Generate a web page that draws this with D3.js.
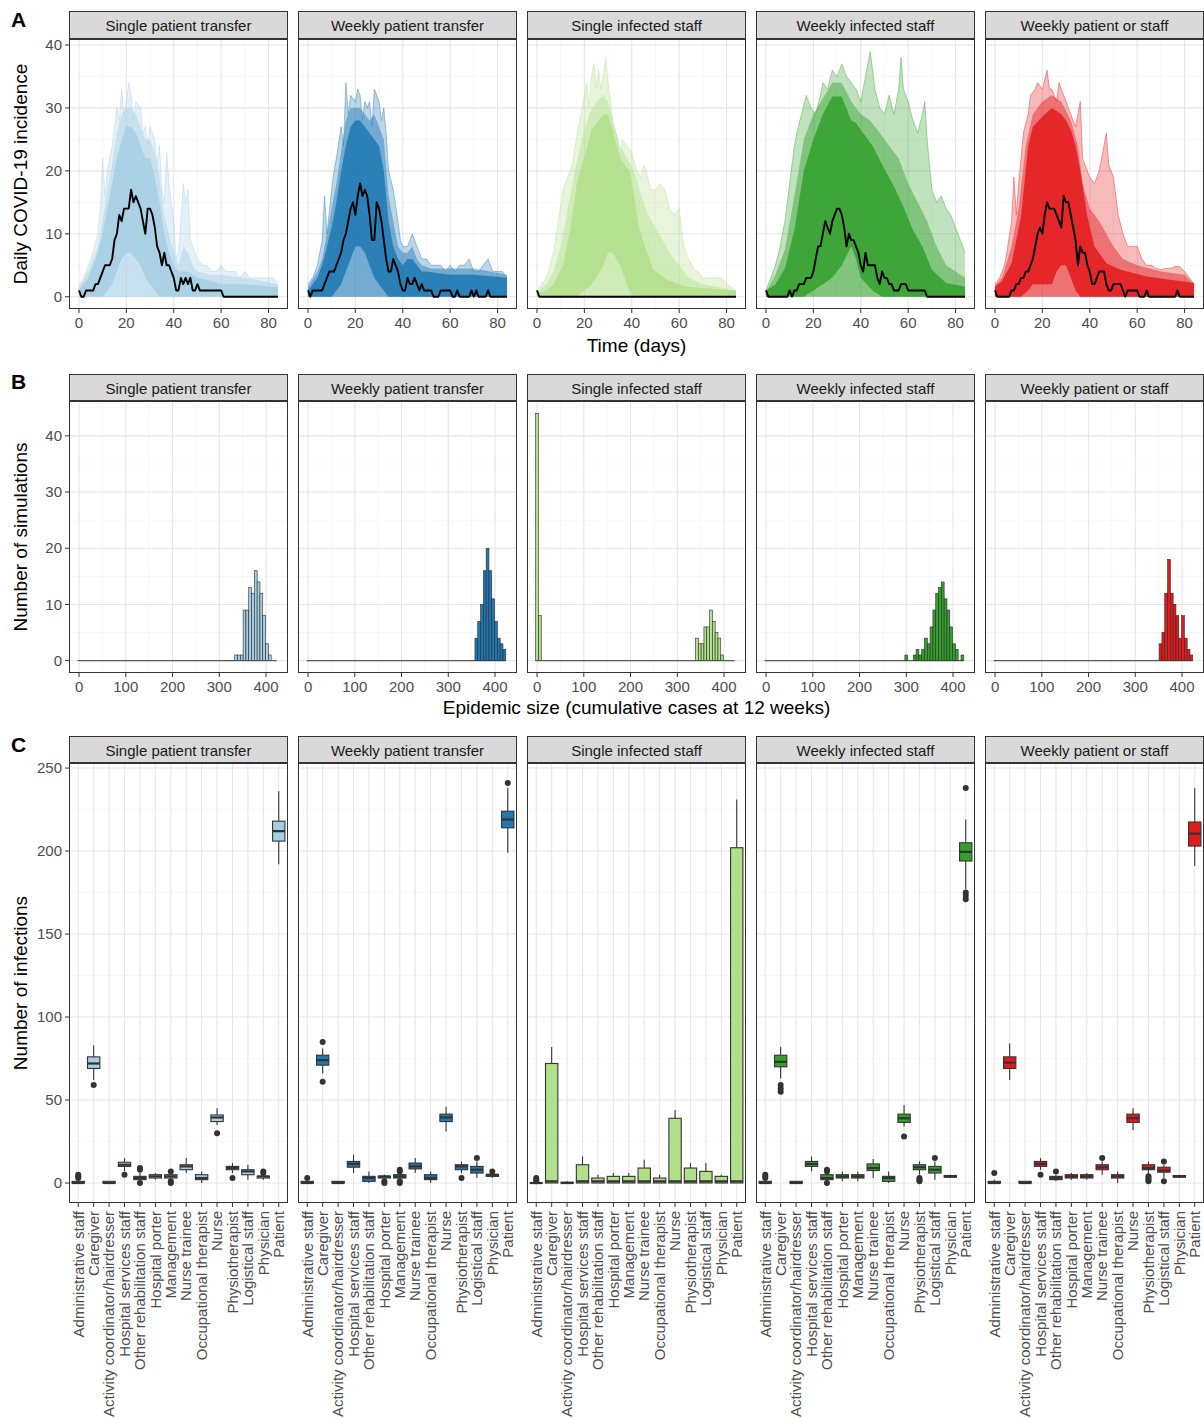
<!DOCTYPE html>
<html>
<head>
<meta charset="utf-8">
<script src="https://cdn.jsdelivr.net/npm/d3@7"></script>
<style>
  body { margin: 0; background: #fff; }
  svg { display: block; font-family: "Liberation Sans", Arial, Helvetica, sans-serif; }
</style>
</head>
<body>
<svg id="fig" width="1204" height="1418"></svg>
<script>
// ---------------- data ----------------
const scenarios = ["Single patient transfer", "Weekly patient transfer", "Single infected staff",
                   "Weekly infected staff", "Weekly patient or staff"];
const scenarioColors = ["#a6cee3", "#1f78b4", "#b2df8a", "#33a02c", "#e31a1c"];

// Panel A: daily incidence of the highlighted simulation, days 0..84
const medSinglePatient = [1,0,0,1,1,1,1,2,2,3, 4,5,5,5,6,9,10,13,12,14, 14,14,17,15,16,15,14,12,10,14,
  14,13,11,8,7,5,7,5,5,4, 3,1,1,3,2,3,2,3,1,1, 2,1,1,1,1,1,1,1,1,1, 1,0,0,0,0,0,0,0,0,0,
  0,0,0,0,0,0,0,0,0,0, 0,0,0,0,0];
const medWeeklyPatient = [1,0,1,1,1,1,1,2,3,4, 4,4,5,6,7,9,10,12,14,15, 13,16,18,16,17,16,13,9,9,15,
  14,12,9,6,4,4,6,5,4,2, 1,1,3,2,2,3,2,1,2,1, 1,1,1,0,0,0,1,1,1,1, 1,0,0,1,0,0,0,0,0,1,
  0,1,0,0,0,0,1,0,0,0, 0,0,0,0,0];
const medSingleStaff = [1,0,0,0,0,0,0,0,0,0, 0,0,0,0,0,0,0,0,0,0, 0,0,0,0,0,0,0,0,0,0,
  0,0,0,0,0,0,0,0,0,0, 0,0,0,0,0,0,0,0,0,0, 0,0,0,0,0,0,0,0,0,0, 0,0,0,0,0,0,0,0,0,0,
  0,0,0,0,0,0,0,0,0,0, 0,0,0,0,0];
const medWeeklyStaff = [1,0,0,0,0,0,0,0,0,0, 1,0,1,1,2,2,2,3,3,3, 4,6,8,8,10,12,11,10,12,13,
  14,14,13,11,8,10,9,9,8,7, 5,4,7,5,5,5,5,3,2,4, 3,3,2,2,1,1,1,2,2,2, 1,1,1,1,1,1,1,1,0,0,
  0,0,0,0,0,0,0,0,0,0, 0,0,0,0,0];
const medWeeklyPatientStaff = [1,0,0,0,0,0,0,1,1,2, 2,3,3,4,4,5,6,8,10,11, 10,13,15,14,14,14,13,12,11,16,
  15,15,13,11,9,5,8,7,7,5, 4,2,2,3,4,4,4,2,1,1, 2,2,2,2,1,0,1,1,1,1, 1,0,0,0,1,0,0,0,0,0,
  0,0,0,0,0,0,0,1,0,0, 0,0,0,0,0];

// Panel A: upper edge of all simulated trajectories [day, incidence]
const outerSinglePatient = [[0,2],[2,3],[4,5],[6,7],[8,10],[9,14],[10,22],[11,16],[12,20],[14,24],[16,30],[17,28],
  [18,33],[19,29],[20,31],[21,34],[22,32],[23,28],[24,31],[26,30],[27,26],[28,27],[29,24],[30,27],[32,25],[33,21],
  [34,24],[35,17],[36,15],[37,23],[38,18],[40,12],[41,6],[42,7],[43,12],[44,18],[45,15],[46,17],[47,9],[48,8],
  [50,6],[52,5],[54,5],[56,4],[58,4],[60,5],[62,4],[64,4],[66,4],[68,3],[70,4],[72,3],[74,3],[76,3],[78,3],
  [80,3],[82,3],[84,2]];
const outerWeeklyPatient = [[0,2],[2,3],[4,5],[6,9],[7,16],[8,10],[10,17],[11,20],[12,22],[14,27],[15,24],[16,34],
  [17,29],[18,32],[20,31],[21,33],[22,32],[23,28],[24,31],[25,30],[26,31],[27,27],[28,33],[30,31],[31,28],[32,30],
  [33,26],[34,20],[36,17],[38,12],[39,9],[40,8],[42,8],[44,10],[45,9],[46,8],[48,6],[50,6],[52,5],[54,5],[56,5],
  [58,4],[60,5],[62,4],[64,5],[66,5],[68,6],[70,4],[72,4],[74,5],[76,6],[78,4],[80,4],[82,4],[84,3]];
const outerSingleStaff = [[0,1],[4,3],[7,7],[9,12],[11,17],[13,19],[15,21],[17,26],[19,30],[21,34],[22,30],[23,35],
  [24,37],[25,33],[26,36],[27,33],[28,35],[29,38],[30,34],[31,31],[32,28],[34,25],[35,22],[36,25],[38,24],[40,23],
  [42,20],[44,19],[45,21],[46,20],[48,17],[50,17],[52,18],[54,17],[56,14],[58,13],[60,14],[62,8],[64,6],[66,4.5],
  [68,4],[70,3],[72,3],[74,3],[76,3],[78,3],[80,2],[82,1.5],[84,1]];
const outerWeeklyStaff = [[0,1],[2,3],[4,5],[6,8],[8,12],[10,18],[12,24],[13,26],[15,29],[17,32],[19,30],[21,29],
  [23,32],[24,34],[26,33],[28,36],[30,35],[32,37],[34,35],[36,34],[38,33],[40,31],[42,35],[44,39],[46,33],[48,30],
  [50,29],[52,32],[54,29],[56,33],[57,38],[58,33],[60,31],[62,28],[64,26],[66,29],[67,31],[68,25],[70,17],[72,15],
  [74,16],[76,14],[78,13],[80,11],[82,9],[84,7]];
const outerWeeklyPatientStaff = [[0,2],[2,3],[4,5],[5,7],[7,12],[8,19],[9,13],[10,18],[12,26],[14,29],[15,32],[17,33],
  [18,34],[20,33],[22,36],[23,33],[24,33],[26,31],[27,34],[28,33],[30,31],[32,29],[34,27],[36,31],[37,22],[38,21],
  [40,19],[42,18],[44,20],[46,24],[47,26],[48,21],[50,19],[52,13],[54,10],[56,8],[58,8],[60,8],[62,6],[64,5],
  [66,5],[68,4.5],[70,4.3],[72,4.5],[74,4.5],[76,4.8],[78,4.8],[80,4],[82,3],[84,2]];

// Panel A: upper edge of the moderately dense part of the trajectories [day, incidence]
const midSinglePatient = [[0,1.5],[4,4],[8,8],[10,12],[12,17],[14,21],[16,26],[18,29],[20,30],[22,30],[24,29],
  [26,27],[28,25],[30,25],[32,23],[34,19],[36,13],[38,10],[40,7],[42,5],[44,8],[46,7],[48,5],[50,4],[56,3.5],
  [60,3.5],[70,3],[84,2]];
const midWeeklyPatient = [[0,1.5],[4,4],[6,6],[8,10],[10,14],[12,18],[14,23],[16,28],[18,30],[20,30],[22,30],
  [24,29],[26,28],[28,29],[30,27],[32,25],[34,16],[36,12],[38,8],[40,7],[42,7],[44,8],[46,6],[48,5],[52,4.5],
  [60,4.5],[70,4.5],[84,3.5]];
const midSingleStaff = [[0,0.8],[4,2],[7,4],[10,8],[13,14],[16,20],[19,25],[22,29],[25,31],[28,32],[30,31],
  [32,28],[35,24],[38,22],[41,20],[44,16],[47,13],[50,11],[53,9],[56,7],[60,5],[64,3],[70,2],[84,1]];
const midWeeklyStaff = [[0,0.8],[4,3.5],[8,7.5],[12,16],[16,25],[20,29],[24,31.5],[28,34],[32,34],[36,31],[40,29],
  [44,28],[48,26],[52,24],[56,22],[60,18],[64,15],[68,12],[72,8],[76,5],[80,4],[84,3]];
const midWeeklyPatientStaff = [[0,1.8],[3,3],[7,8],[10,14],[13,24],[16,29],[20,31],[24,32],[28,31],[32,28],
  [35,24],[37,18],[40,14],[44,12],[47,10],[50,8],[54,6],[60,5],[70,4],[80,3.5],[84,2]];

// Panel A: dense core of the trajectories [day, lower, upper]
const coreSinglePatient = [[0,0,1],[4,0,3],[8,0,7],[10,0,10],[12,1,14],[14,2,18],[16,4,22],[18,6,25],[20,7,27],
  [22,7,27],[24,6,26],[26,5,24],[28,3,22],[30,2,22],[32,1,19],[34,0,15],[36,0,10],[38,0,7],[40,0,5],[42,0,4],
  [46,0,4],[50,0,3],[56,0,2.5],[60,0,2],[70,0,2],[84,0,1.5]];
const coreWeeklyPatient = [[0,0,1],[2,0,2],[4,0,3],[6,0,5],[8,0,8],[10,0,11],[12,1,15],[14,2,20],[16,4,24],[18,6,27],
  [20,8,28],[22,8,28],[24,7,27],[26,5,26],[28,3,25],[30,2,24],[32,1,20],[34,0,12],[36,0,8],[38,0,6],[40,0,5],
  [42,0,6],[44,0,6],[46,0,5],[48,0,4],[50,0,4],[60,0,3.5],[70,0,3.5],[84,0,3]];
const coreSingleStaff = [[0,0,0.5],[4,0,1],[7,0,2],[11,0,5],[14,0,10.5],[17,0,18.5],[20,1,22],[23,2,26.5],
  [25,3,27.5],[28,5,29],[30,7,29],[32,7,26.5],[35,5,22],[37,3,21],[39,1,20],[41,0,16],[43,0,11],[46,0,7.5],
  [49,0,4.3],[55,0,2.7],[63,0,1.6],[84,0,1]];
const coreWeeklyStaff = [[0,0,1],[4,0,2],[8,0,4.5],[12,0,10.6],[16,0,20],[20,1,25],[24,2,29],[28,3,31.8],
  [32,5,31.8],[36,8,28],[38,6,27.6],[40,3,26.5],[45,1,24],[49,0,21],[54,0,17.5],[58,0,14.3],[62,0,10.6],
  [66,0,8],[70,0,4.3],[76,0,2.2],[84,0,1.6]];
const coreWeeklyPatientStaff = [[0,0,1.6],[3,0,2.5],[7,0,5.3],[11,0,12.7],[14,1,23.9],[16,2,27],[20,2,28.6],
  [24,2,30],[26,4,29.5],[28,5,29],[30,5,28],[32,3,26.5],[34,1,24],[36,0,20],[39,0,12.7],[42,0,8],[47,0,5.3],
  [53,0,4.3],[64,0,3.2],[84,0,2.2]];

const incidenceTicks = [0, 20, 40, 60, 80];
const incidenceYTicks = [0, 10, 20, 30, 40];

// Panel B: histogram of epidemic size [bin centre, number of simulations]
const sizeBinWidth = 6;
const sizeBinFirstEdge = -3;
const sizeBinLastEdge = 423;
const histSinglePatient = [[336,1],[342,1],[348,1],[354,9],[360,9],[366,13],[372,12],[378,16],[384,14],[390,12],
  [396,8],[402,3],[408,1]];
const histWeeklyPatient = [[360,4],[366,7],[372,10],[378,16],[384,20],[390,16],[396,11],[402,7],[408,4],[414,3],[420,2]];
const histSingleStaff = [[0,44],[6,8],[342,4],[348,3],[354,3],[360,6],[366,6],[372,9],[378,7],[384,5],[390,4],[396,1]];
const histWeeklyStaff = [[300,1],[318,1],[324,2],[330,1],[336,2],[342,4],[348,3],[354,6],[360,9],[366,12],[372,13],
  [378,14],[384,11],[390,9],[396,6],[402,3],[408,2],[420,1]];
const histWeeklyPatientStaff = [[354,3],[360,5],[366,12],[372,18],[378,12],[384,10],[390,8],[396,4],[402,8],[408,4],
  [414,2],[420,1]];
const sizeXTicks = [0, 100, 200, 300, 400];
const sizeYTicks = [0, 10, 20, 30, 40];

// Panel C: infections per group, [lower whisker, Q1, median, Q3, upper whisker, outliers]
const staffGroups = ["Administrative staff", "Caregiver", "Activity coordinator/hairdresser", "Hospital services staff",
  "Other rehabilitation staff", "Hospital porter", "Management", "Nurse trainee", "Occupational therapist", "Nurse",
  "Physiotherapist", "Logistical staff", "Physician", "Patient"];
const boxSinglePatient = [
  [0,0,0,1,2,[3,4,5]], [62,69,72,76,83,[59]], [0,0,0,1,1,[]], [7,10,11,12.5,15,[5]],
  [1,2,3,4,6,[0,8,9]], [2,3,4,5,6,[]], [2,3,4,5,6,[0,1,7]], [6,8,10,11,15,[]],
  [0,2,3,5,7,[]], [35,37,39.5,41,45,[30]], [6,8,9,10,12,[3]], [2,5,7,8,11,[]],
  [2,3,4,4,5,[6,7]], [192,206,212,218,236,[]]];
const boxWeeklyPatient = [
  [0,0,0,1,2,[3]], [66,71,74,77,81,[61,85]], [0,0,0,1,1,[]], [6,9.5,11.5,13,17,[]],
  [0,1,3,4,7,[]], [2,3,4,4,5,[0,1]], [2,3,4,5,6,[0,1,7,8]], [6,8.5,10,12,15,[]],
  [0,2,3,5,7,[]], [31,37,39.5,41.5,46,[]], [6,8,10,11,13,[3]], [3,6,8,10,13,[15]],
  [3,4,5,5,6,[7]], [199,214,219,224,238,[241]]];
const boxSingleStaff = [
  [0,0,0,0,0,[1,2,3]], [0,0,1,72,82,[]], [0,0,0,0.5,1,[]], [0,0,1,11,16,[]],
  [0,0,1,3,5,[]], [0,0,1,4,6,[]], [0,0,1,4,6,[]], [0,0,1,9,14,[]],
  [0,0,1,3,5,[]], [0,0,1,39,44,[]], [0,0,1,9,12,[]], [0,0,1,7,12,[]],
  [0,0,1,4,5,[]], [0,0,1,202,231,[]]];
const boxWeeklyStaff = [
  [0,0,0,1,2,[3,4,5]], [63,70,73,77,82,[55,57,59]], [0,0,0,1,1,[]], [7,10,11.5,13,16,[]],
  [1,2,3,5,6,[0,7,8]], [1,3,4,5,7,[]], [1,3,4,5,7,[]], [3,7.5,9,11.5,14.5,[]],
  [0,1,3,4,7,[]], [34,36.5,39,41.5,47,[28]], [5,8,9.5,11,13,[1,2,3]], [2,6,8,10,13,[15]],
  [3,3.5,4,4.5,5,[]], [177,194,199.5,205,219,[171,173,175,238]]];
const boxWeeklyPatientStaff = [
  [0,0,0,1,2,[6]], [62,69,72.5,76,84,[]], [0,0,0,1,1,[]], [8,10,11.5,13,15,[5]],
  [1,2,3,4,5,[7]], [2,3,4,5,6,[]], [2,3,4,5,6,[]], [5,8,9.5,11,13,[15]],
  [0,3,4,5,7,[]], [32,36.5,39,41.5,45,[]], [5,8,9,11,13,[1,2,3,4]], [3,6.5,7.5,9.5,11,[1,13]],
  [3,3.5,4,4.5,5,[]], [191,203,210.5,217.5,238,[]]];
const infectionYTicks = [0, 50, 100, 150, 200, 250];

const incidenceMedian = [medSinglePatient, medWeeklyPatient, medSingleStaff, medWeeklyStaff, medWeeklyPatientStaff];
const incidenceOuter = [outerSinglePatient, outerWeeklyPatient, outerSingleStaff, outerWeeklyStaff, outerWeeklyPatientStaff];
const incidenceMid = [midSinglePatient, midWeeklyPatient, midSingleStaff, midWeeklyStaff, midWeeklyPatientStaff];
const incidenceCore = [coreSinglePatient, coreWeeklyPatient, coreSingleStaff, coreWeeklyStaff, coreWeeklyPatientStaff];
const sizeHists = [histSinglePatient, histWeeklyPatient, histSingleStaff, histWeeklyStaff, histWeeklyPatientStaff];
const infectionBoxes = [boxSinglePatient, boxWeeklyPatient, boxSingleStaff, boxWeeklyStaff, boxWeeklyPatientStaff];

// ---------------- layout ----------------
const svg = d3.select("#fig");
const PANEL_X0 = 69, PANEL_STEP = 229, PANEL_W = 219;
const rowA = { strip: 11, top: 39, bottom: 309 };
const rowB = { strip: 374, top: 401, bottom: 673 };
const rowC = { strip: 736, top: 763, bottom: 1203 };
const FRAME = "#333333", TICK_TXT = "#4d4d4d", GRID_MAJ = "#e6e6e6", GRID_MIN = "#f2f2f2";
const TICK_FONT = 15, STRIP_FONT = 15, TITLE_FONT = 19;
const panelLeft = i => PANEL_X0 + i * PANEL_STEP;

function strip(i, row) {
  const x0 = panelLeft(i);
  svg.append("rect").attr("x", x0 + 0.5).attr("y", row.strip + 0.5)
    .attr("width", PANEL_W - 1).attr("height", row.top - row.strip - 1)
    .attr("fill", "#d9d9d9").attr("stroke", FRAME).attr("stroke-width", 1);
  svg.append("text").attr("x", x0 + PANEL_W / 2).attr("y", (row.strip + row.top) / 2 + 1)
    .attr("dy", "0.35em").attr("text-anchor", "middle").attr("font-size", STRIP_FONT).attr("fill", "#1a1a1a")
    .text(scenarios[i]);
}

function frame(g, i, row) {
  g.append("rect").attr("x", panelLeft(i) + 0.5).attr("y", row.top + 0.5)
    .attr("width", PANEL_W - 1).attr("height", row.bottom - row.top - 1)
    .attr("fill", "none").attr("stroke", FRAME).attr("stroke-width", 1);
}

function minorsOf(ticks, dom) {
  const step = ticks[1] - ticks[0];
  const out = [];
  for (let k = -1; k < ticks.length; k++) {
    const m = ticks[0] + (k + 0.5) * step;
    if (m > dom[0] && m < dom[1]) out.push(m);
  }
  return out;
}

function linearGrid(g, x, y, xt, yt, row, i) {
  const x0 = panelLeft(i), x1 = x0 + PANEL_W;
  minorsOf(yt, y.domain()).forEach(v => g.append("line").attr("x1", x0).attr("x2", x1)
    .attr("y1", y(v)).attr("y2", y(v)).attr("stroke", GRID_MIN).attr("stroke-width", 0.6));
  minorsOf(xt, x.domain()).forEach(v => g.append("line").attr("y1", row.top).attr("y2", row.bottom)
    .attr("x1", x(v)).attr("x2", x(v)).attr("stroke", GRID_MIN).attr("stroke-width", 0.6));
  yt.forEach(v => g.append("line").attr("x1", x0).attr("x2", x1)
    .attr("y1", y(v)).attr("y2", y(v)).attr("stroke", GRID_MAJ).attr("stroke-width", 1.1));
  xt.forEach(v => g.append("line").attr("y1", row.top).attr("y2", row.bottom)
    .attr("x1", x(v)).attr("x2", x(v)).attr("stroke", GRID_MAJ).attr("stroke-width", 1.1));
}

function bottomTicks(scale, ticks, row) {
  ticks.forEach(t => {
    const px = scale(t);
    svg.append("line").attr("x1", px).attr("x2", px).attr("y1", row.bottom).attr("y2", row.bottom + 4)
      .attr("stroke", FRAME).attr("stroke-width", 1);
    svg.append("text").attr("x", px).attr("y", row.bottom + 8).attr("dy", "0.71em")
      .attr("text-anchor", "middle").attr("font-size", TICK_FONT).attr("fill", TICK_TXT).text(t);
  });
}

function leftTicks(scale, ticks) {
  ticks.forEach(t => {
    const py = scale(t);
    svg.append("line").attr("x1", PANEL_X0 - 4).attr("x2", PANEL_X0).attr("y1", py).attr("y2", py)
      .attr("stroke", FRAME).attr("stroke-width", 1);
    svg.append("text").attr("x", PANEL_X0 - 7).attr("y", py).attr("dy", "0.35em")
      .attr("text-anchor", "end").attr("font-size", TICK_FONT).attr("fill", TICK_TXT).text(t);
  });
}

function yTitle(text, row) {
  svg.append("text").attr("transform", `translate(20,${(row.top + row.bottom) / 2}) rotate(-90)`)
    .attr("dy", "0.35em").attr("text-anchor", "middle").attr("font-size", TITLE_FONT).attr("fill", "#000").text(text);
}
function xTitle(text, yPos) {
  svg.append("text").attr("x", (PANEL_X0 + panelLeft(4) + PANEL_W) / 2).attr("y", yPos)
    .attr("text-anchor", "middle").attr("font-size", TITLE_FONT).attr("fill", "#000").text(text);
}
function tag(letter, yPos) {
  svg.append("text").attr("x", 11).attr("y", yPos).attr("font-size", 21).attr("font-weight", "bold")
    .attr("fill", "#000").text(letter);
}

// ---------------- A: daily incidence ----------------
scenarios.forEach((name, i) => {
  const x0 = panelLeft(i);
  const x = d3.scaleLinear().domain([-4.2, 88.2]).range([x0, x0 + PANEL_W]);
  const y = d3.scaleLinear().domain([-1.95, 40.95]).range([rowA.bottom, rowA.top]);
  const g = svg.append("g");
  strip(i, rowA);
  linearGrid(g, x, y, incidenceTicks, incidenceYTicks, rowA, i);
  const col = scenarioColors[i];
  const upper = d3.area().x(d => x(d[0])).y0(y(0)).y1(d => y(d[1]));

  g.append("path").datum(incidenceOuter[i]).attr("d", upper)
    .attr("fill", col).attr("fill-opacity", 0.3);
  g.append("path").datum(incidenceOuter[i])
    .attr("d", d3.line().x(d => x(d[0])).y(d => y(d[1])))
    .attr("fill", "none").attr("stroke", col).attr("stroke-opacity", 0.45).attr("stroke-width", 0.9);
  g.append("path").datum(incidenceMid[i]).attr("d", upper)
    .attr("fill", col).attr("fill-opacity", 0.45);
  g.append("path").datum(incidenceCore[i])
    .attr("d", d3.area().x(d => x(d[0])).y0(d => y(d[1])).y1(d => y(d[2])))
    .attr("fill", col).attr("fill-opacity", 0.85);
  g.append("path").datum(incidenceMedian[i])
    .attr("d", d3.line().x((d, j) => x(j)).y(d => y(d)))
    .attr("fill", "none").attr("stroke", "#000").attr("stroke-width", 1.9).attr("stroke-linejoin", "round");

  frame(g, i, rowA);
  bottomTicks(x, incidenceTicks, rowA);
  if (i === 0) leftTicks(y, incidenceYTicks);
});
tag("A", 27);
yTitle("Daily COVID-19 incidence", rowA);
xTitle("Time (days)", 352);

// ---------------- B: epidemic size ----------------
scenarios.forEach((name, i) => {
  const x0 = panelLeft(i);
  const x = d3.scaleLinear().domain([-21.5, 447]).range([x0, x0 + PANEL_W]);
  const y = d3.scaleLinear().domain([-2.2, 46.2]).range([rowB.bottom, rowB.top]);
  const g = svg.append("g");
  strip(i, rowB);
  linearGrid(g, x, y, sizeXTicks, sizeYTicks, rowB, i);
  const col = scenarioColors[i];

  // zero-count bins show as the baseline
  g.append("line").attr("x1", x(sizeBinFirstEdge)).attr("x2", x(sizeBinLastEdge))
    .attr("y1", y(0)).attr("y2", y(0)).attr("stroke", "#5a5a5a").attr("stroke-width", 1.1);
  g.selectAll("rect.bar").data(sizeHists[i]).join("rect").attr("class", "bar")
    .attr("x", d => x(d[0] - sizeBinWidth / 2))
    .attr("width", d => x(d[0] + sizeBinWidth / 2) - x(d[0] - sizeBinWidth / 2))
    .attr("y", d => y(d[1]))
    .attr("height", d => y(0) - y(d[1]))
    .attr("fill", col).attr("stroke", "#2b2b2b").attr("stroke-width", 0.6);

  frame(g, i, rowB);
  bottomTicks(x, sizeXTicks, rowB);
  if (i === 0) leftTicks(y, sizeYTicks);
});
tag("B", 389);
yTitle("Number of simulations", rowB);
xTitle("Epidemic size (cumulative cases at 12 weeks)", 714);

// ---------------- C: infections by group ----------------
scenarios.forEach((name, i) => {
  const x0 = panelLeft(i);
  const x = d3.scalePoint().domain(staffGroups).range([x0, x0 + PANEL_W]).padding(0.6);
  const y = d3.scaleLinear().domain([-12.05, 253.05]).range([rowC.bottom, rowC.top]);
  const g = svg.append("g");
  strip(i, rowC);

  minorsOf(infectionYTicks, y.domain()).forEach(v => g.append("line").attr("x1", x0).attr("x2", x0 + PANEL_W)
    .attr("y1", y(v)).attr("y2", y(v)).attr("stroke", GRID_MIN).attr("stroke-width", 0.6));
  infectionYTicks.forEach(v => g.append("line").attr("x1", x0).attr("x2", x0 + PANEL_W)
    .attr("y1", y(v)).attr("y2", y(v)).attr("stroke", GRID_MAJ).attr("stroke-width", 1.1));
  staffGroups.forEach(s => g.append("line").attr("x1", x(s)).attr("x2", x(s))
    .attr("y1", rowC.top).attr("y2", rowC.bottom).attr("stroke", GRID_MAJ).attr("stroke-width", 1.1));

  const col = scenarioColors[i];
  const bw = 0.8 * x.step();
  staffGroups.forEach((s, k) => {
    const [lo, q1, med, q3, hi, out] = infectionBoxes[i][k];
    const cx = x(s);
    g.append("line").attr("x1", cx).attr("x2", cx).attr("y1", y(hi)).attr("y2", y(q3))
      .attr("stroke", FRAME).attr("stroke-width", 1.1);
    g.append("line").attr("x1", cx).attr("x2", cx).attr("y1", y(q1)).attr("y2", y(lo))
      .attr("stroke", FRAME).attr("stroke-width", 1.1);
    g.append("rect").attr("x", cx - bw / 2).attr("y", y(q3)).attr("width", bw)
      .attr("height", Math.max(y(q1) - y(q3), 0.01))
      .attr("fill", col).attr("stroke", FRAME).attr("stroke-width", 1.1);
    g.append("line").attr("x1", cx - bw / 2).attr("x2", cx + bw / 2).attr("y1", y(med)).attr("y2", y(med))
      .attr("stroke", FRAME).attr("stroke-width", 2.2);
    out.forEach(o => g.append("circle").attr("cx", cx).attr("cy", y(o)).attr("r", 3).attr("fill", FRAME));
  });

  frame(g, i, rowC);
  staffGroups.forEach(s => {
    const px = x(s);
    svg.append("line").attr("x1", px).attr("x2", px).attr("y1", rowC.bottom).attr("y2", rowC.bottom + 4)
      .attr("stroke", FRAME).attr("stroke-width", 1);
    svg.append("text").attr("transform", `translate(${px},${rowC.bottom + 8}) rotate(-90)`)
      .attr("dy", "0.35em").attr("text-anchor", "end").attr("font-size", TICK_FONT).attr("fill", TICK_TXT).text(s);
  });
  if (i === 0) leftTicks(y, infectionYTicks);
});
tag("C", 752);
yTitle("Number of infections", rowC);
</script>
</body>
</html>
